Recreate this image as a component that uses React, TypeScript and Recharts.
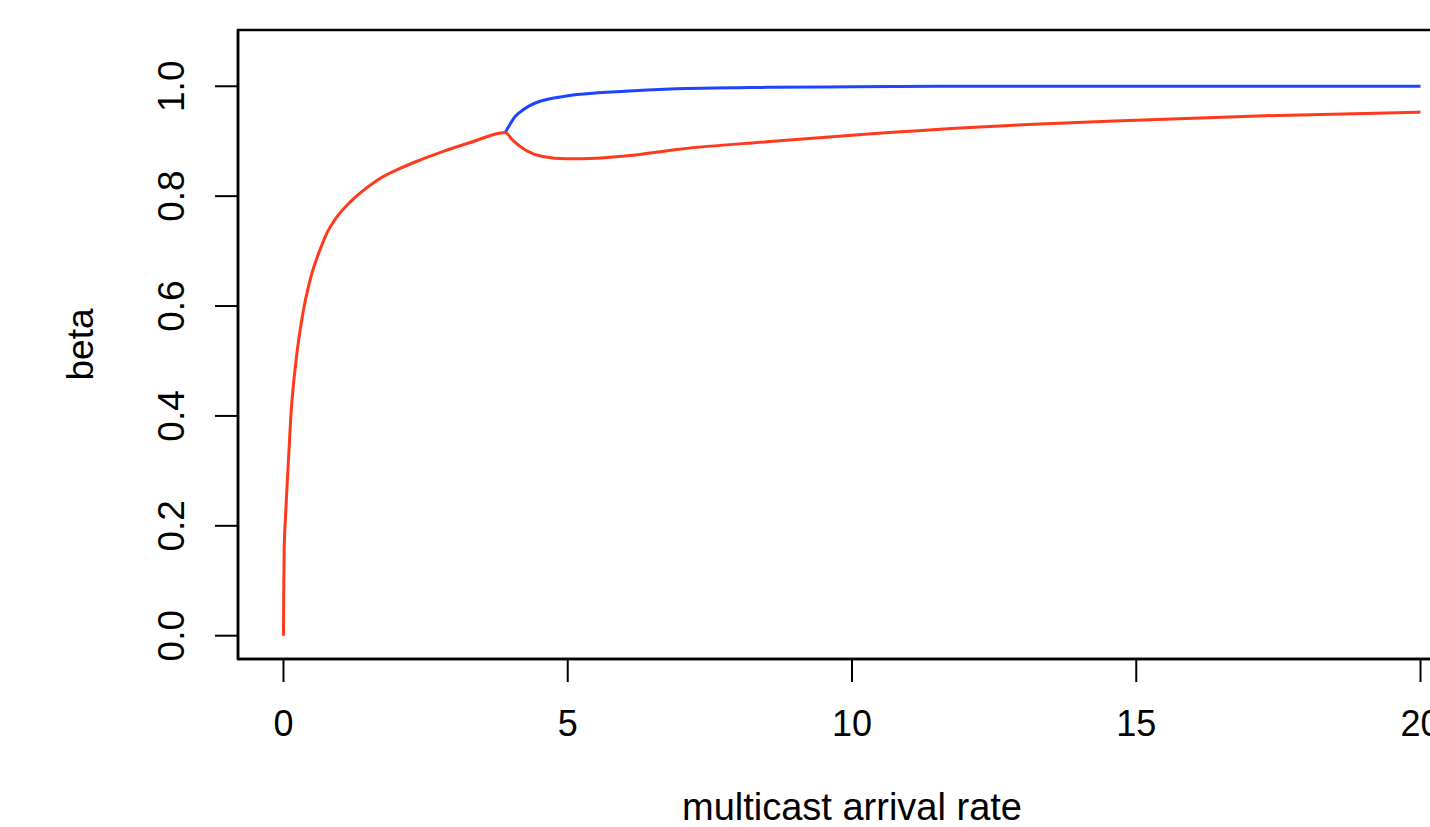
import React from "react";
import { LineChart, Line, XAxis, YAxis, ReferenceArea } from "recharts";

const redX = [0, 0.004, 0.012, 0.035, 0.07, 0.13, 0.22, 0.33, 0.48, 0.66, 0.77, 0.89, 1.18, 1.4, 1.65, 2.04, 2.36, 2.8, 3.3, 3.9, 4.03, 4.27, 4.56, 4.97, 5.5, 6.0, 7.0, 8.5, 10, 13, 15, 17.5, 20];
const redY = [0, 0.07, 0.155, 0.215, 0.285, 0.4, 0.5, 0.58, 0.652, 0.707, 0.734, 0.755, 0.79, 0.81, 0.829, 0.85, 0.864, 0.881, 0.898, 0.916, 0.902, 0.883, 0.872, 0.868, 0.869, 0.873, 0.886, 0.899, 0.911, 0.93, 0.938, 0.947, 0.953];
const blueX = [3.9, 3.98, 4.06, 4.15, 4.3, 4.44, 5.03, 6.0, 6.8, 8.5, 10, 12, 20];
const blueY = [0.916, 0.93, 0.943, 0.952, 0.963, 0.97, 0.983, 0.991, 0.995, 0.998, 0.999, 1.0, 1.0];
const xTicks = [0, 5, 10, 15, 20];
const yTicks = [0, 0.2, 0.4, 0.6, 0.8, 1.0];

const redData = redX.map((x, i) => ({ x, y: redY[i] }));
const blueData = blueX.map((x, i) => ({ x, y: blueY[i] }));

const FONT = "'Liberation Sans', Arial, Helvetica, sans-serif";
const FS = 36;

const XTick = (p: any) => (
  <text x={p.x} y={p.y + 52} textAnchor="middle" fontFamily={FONT} fontSize={FS} fill="#000">
    {p.payload.value}
  </text>
);

const YTick = (p: any) => (
  <text
    transform={`translate(${p.x - 29},${p.y}) rotate(-90)`}
    textAnchor="middle"
    fontFamily={FONT}
    fontSize={FS + 1}
    fill="#000"
  >
    {Number(p.payload.value).toFixed(1)}
  </text>
);

const XLabel = (p: any) => {
  const vb = p.viewBox;
  return (
    <text x={vb.x + vb.width / 2} y={vb.y + 161} textAnchor="middle" fontFamily={FONT} fontSize={38} fill="#000">
      multicast arrival rate
    </text>
  );
};

const YLabel = (p: any) => {
  const vb = p.viewBox;
  return (
    <text
      transform={`translate(${vb.x - 45},${vb.y + vb.height / 2}) rotate(-90)`}
      textAnchor="middle"
      fontFamily={FONT}
      fontSize={37}
      fill="#000"
    >
      beta
    </text>
  );
};

export default function App() {
  return (
    <div style={{ position: "absolute", left: 0, top: 0, width: 1430, height: 827, overflow: "hidden", background: "#fff" }}>
      <LineChart width={1470} height={827} margin={{ top: 30, right: 4, bottom: 68, left: 138 }}>
        <XAxis
          dataKey="x"
          type="number"
          domain={[-0.8, 20.8]}
          ticks={xTicks}
          allowDataOverflow
          tickSize={23}
          tickMargin={2}
          height={100}
          stroke="#000"
          strokeWidth={2.5}
          tick={<XTick />}
          tickLine={{ stroke: "#000", strokeWidth: 2 }}
          label={{ content: <XLabel /> }}
        />
        <YAxis
          type="number"
          domain={[-0.0424, 1.1024]}
          ticks={yTicks}
          allowDataOverflow
          tickSize={23}
          tickMargin={2}
          width={100}
          stroke="#000"
          strokeWidth={2.5}
          tick={<YTick />}
          tickLine={{ stroke: "#000", strokeWidth: 2 }}
          label={{ content: <YLabel /> }}
        />
        <ReferenceArea
          x1={-0.8}
          x2={20.8}
          y1={-0.0424}
          y2={1.1024}
          fill="none"
          fillOpacity={0}
          stroke="#000"
          strokeWidth={2.5}
          ifOverflow="visible"
        />
        <Line
          data={blueData}
          dataKey="y"
          type="monotone"
          stroke="#1f44ff"
          strokeWidth={3}
          dot={false}
          activeDot={false}
          isAnimationActive={false}
        />
        <Line
          data={redData}
          dataKey="y"
          type="monotone"
          stroke="#ff3a1c"
          strokeWidth={3}
          dot={false}
          activeDot={false}
          isAnimationActive={false}
        />
      </LineChart>
    </div>
  );
}
